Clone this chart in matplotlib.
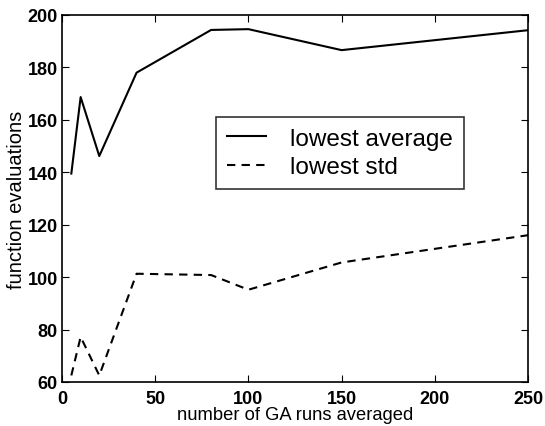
import matplotlib
matplotlib.use('Agg')
import matplotlib.pyplot as plt

# data
runs = [5, 10, 20, 40, 80, 100, 150, 250]
lowest_average = [139.5, 168.7, 146.2, 178, 194.3, 194.6, 186.6, 194.2]
lowest_std = [62.5, 77.2, 62.5, 101.3, 100.8, 95.2, 105.6, 116]

xticks = [0, 50, 100, 150, 200, 250]
yticks = [60, 80, 100, 120, 140, 160, 180, 200]

plt.rcParams['font.family'] = ['Liberation Sans', 'DejaVu Sans']

fig = plt.figure(figsize=(5.45, 4.27), dpi=100)
ax = fig.add_axes([62 / 545, 1 - 383 / 427, (528 - 62) / 545, (383 - 16) / 427])

ax.plot(runs, lowest_average, '-', color='black', lw=1.5, label='lowest average')
ax.plot(runs, lowest_std, '--', color='black', lw=1.5, dashes=(4, 3), label='lowest std')

ax.set_xlim(0, 250)
ax.set_ylim(60, 200)
ax.set_xticks(xticks)
ax.set_yticks(yticks)
ax.tick_params(direction='in', top=True, right=True, labelsize=13, length=5)
ax.tick_params(axis='x', pad=5.5)
ax.tick_params(axis='y', pad=3)
for lab in ax.get_xticklabels() + ax.get_yticklabels():
    lab.set_fontweight('bold')
for s in ax.spines.values():
    s.set_linewidth(1.2)

ax.set_xlabel('number of GA runs averaged', fontsize=13.2, labelpad=-0.5)
ax.set_ylabel('function evaluations', fontsize=14.5, labelpad=1)

leg = ax.legend(loc='upper left', bbox_to_anchor=((216 - 62) / 466, 1 - (118 - 16) / 367),
                borderaxespad=0, fontsize=17.5, frameon=True, fancybox=False,
                edgecolor='black', handlelength=1.6, handletextpad=1.0,
                borderpad=0.45, labelspacing=0.25)
leg.get_frame().set_linewidth(1.2)

fig.savefig('out.png', dpi=100)
